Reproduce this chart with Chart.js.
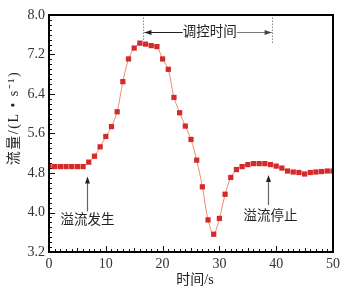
<!DOCTYPE html>
<html lang="zh">
<head>
    <meta charset="UTF-8">
    <title>流量曲线</title>
    <script src="https://cdn.jsdelivr.net/npm/chart.js"></script>
    <style>
        body {
            margin: 0;
            padding: 0;
            background: #ffffff;
        }
        canvas {
            display: block;
        }
    </style>
</head>
<body>
    <canvas id="flowChart" width="348" height="294"></canvas>

    <script>
        // time (s) and measured flow (L/s)
        const times = [0, 1, 2, 3, 4, 5, 6, 7, 8, 9, 10, 11, 12, 13, 14, 15, 16, 17, 18, 19, 20,
            21, 22, 23, 24, 25, 26, 27, 28, 29, 30, 31, 32, 33, 34, 35, 36, 37, 38, 39, 40,
            41, 42, 43, 44, 45, 46, 47, 48, 49, 50];
        const flow = [4.93, 4.93, 4.93, 4.93, 4.93, 4.93, 4.93, 5.02, 5.14, 5.33, 5.54, 5.74, 6.04, 6.65, 7.11, 7.33, 7.43, 7.41, 7.38, 7.36, 7.11,
            6.90, 6.33, 6.02, 5.75, 5.48, 5.06, 4.52, 3.85, 3.56, 3.88, 4.37, 4.71, 4.87, 4.93, 4.97, 4.99, 4.99, 4.99, 4.97, 4.94,
            4.90, 4.84, 4.82, 4.81, 4.78, 4.81, 4.82, 4.83, 4.84, 4.84];
        const xTicks = [0, 10, 20, 30, 40, 50];
        const yTicks = [3.2, 4.0, 4.8, 5.6, 6.4, 7.2, 8.0];

        const serif = "'Liberation Serif', 'DejaVu Serif', serif";
        // latin glyphs in serif, chinese falls back to Noto CJK
        const mixed = "'Liberation Serif', 'Noto Sans CJK SC', serif";

        // frame, inward ticks, axis titles and annotations
        const decorPlugin = {
            id: "decor",
            afterDraw(chart) {
                const ctx = chart.ctx;
                const xs = chart.scales.x, ys = chart.scales.y;
                const a = chart.chartArea;
                ctx.save();

                // ticks pointing inward
                ctx.strokeStyle = "#111";
                ctx.lineWidth = 1;
                for (let t = 0; t <= 50; t += 1) {
                    const px = Math.round(xs.getPixelForValue(t)) + 0.5;
                    const len = t % 10 === 0 ? 6 : (t % 5 === 0 ? 4 : 3);
                    ctx.beginPath();
                    ctx.moveTo(px, a.bottom);
                    ctx.lineTo(px, a.bottom - len);
                    ctx.stroke();
                }
                for (let i = 0; i <= 48; i++) {
                    const v = 3.2 + i * 0.1;
                    const py = Math.round(ys.getPixelForValue(v)) + 0.5;
                    const len = i % 8 === 0 ? 6 : 3;
                    ctx.beginPath();
                    ctx.moveTo(a.left, py);
                    ctx.lineTo(a.left + len, py);
                    ctx.stroke();
                }

                // frame
                ctx.lineWidth = 2;
                ctx.strokeStyle = "#000";
                ctx.strokeRect(a.left, a.top, a.right - a.left, a.bottom - a.top);

                // axis titles
                ctx.fillStyle = "#222";
                ctx.font = "14px " + mixed;
                ctx.textAlign = "center";
                ctx.textBaseline = "middle";
                ctx.fillText("时间/s", 195, 280);
                ctx.save();
                ctx.translate(14, 118);
                ctx.rotate(-Math.PI / 2);
                ctx.letterSpacing = "1.5px";
                ctx.fillText("流量/(L • s\u207B\u00B9)", 0, 0);
                ctx.restore();

                // dotted markers of the control window
                ctx.strokeStyle = "#888";
                ctx.lineWidth = 1;
                ctx.setLineDash([1.5, 1.5]);
                [16.5, 39.3].forEach(t => {
                    const px = Math.round(xs.getPixelForValue(t)) + 0.5;
                    ctx.beginPath();
                    ctx.moveTo(px, ys.getPixelForValue(7.95));
                    ctx.lineTo(px, ys.getPixelForValue(7.43));
                    ctx.stroke();
                });
                ctx.setLineDash([]);

                // double arrow with label
                const ay = Math.round(ys.getPixelForValue(7.66)) + 0.5;
                const x1 = xs.getPixelForValue(16.8), x2 = xs.getPixelForValue(39.2);
                const xm = xs.getPixelForValue(28.3);
                ctx.font = "13.5px " + mixed;
                const tw = ctx.measureText("调控时间").width;
                ctx.strokeStyle = "#222";
                ctx.beginPath();
                ctx.moveTo(x1, ay);
                ctx.lineTo(xm - tw / 2, ay);
                ctx.stroke();
                ctx.strokeStyle = "#777";
                ctx.beginPath();
                ctx.moveTo(xm + tw / 2, ay);
                ctx.lineTo(x2, ay);
                ctx.stroke();
                arrowHead(ctx, x1, ay, -1, 0, "#222");
                arrowHead(ctx, x2, ay, 1, 0, "#444");
                ctx.fillStyle = "#222";
                ctx.fillText("调控时间", xm, ay);

                // vertical arrows with labels
                const notes = [
                    { t: 6.7, head: 4.73, tail: 4.02, label: "溢流发生", lt: 6.8, lv: 3.83 },
                    { t: 38.6, head: 4.76, tail: 4.15, label: "溢流停止", lt: 39.0, lv: 3.91 }
                ];
                notes.forEach(n => {
                    const px = Math.round(xs.getPixelForValue(n.t)) + 0.5;
                    const hy = ys.getPixelForValue(n.head);
                    ctx.strokeStyle = "#666";
                    ctx.lineWidth = 1.2;
                    ctx.beginPath();
                    ctx.moveTo(px, ys.getPixelForValue(n.tail));
                    ctx.lineTo(px, hy + 4);
                    ctx.stroke();
                    arrowHead(ctx, px, hy, 0, -1, "#222");
                    ctx.fillStyle = "#222";
                    ctx.font = "13.5px " + mixed;
                    ctx.fillText(n.label, xs.getPixelForValue(n.lt), ys.getPixelForValue(n.lv));
                });

                ctx.restore();
            }
        };

        function arrowHead(ctx, x, y, dx, dy, color) {
            const L = 7, W = 2.5;
            const bx = x - dx * L, by = y - dy * L;
            ctx.fillStyle = color;
            ctx.beginPath();
            ctx.moveTo(x, y);
            ctx.lineTo(bx - dy * W, by + dx * W);
            ctx.lineTo(bx + dy * W, by - dx * W);
            ctx.closePath();
            ctx.fill();
        }

        const points = times.map((t, i) => ({ x: t, y: flow[i] }));

        new Chart(document.getElementById("flowChart"), {
            type: "line",
            data: {
                datasets: [{
                    label: "流量",
                    data: points,
                    borderColor: "#f08a70",
                    borderWidth: 1,
                    backgroundColor: "#d42a2a",
                    pointBackgroundColor: "#d42a2a",
                    pointBorderColor: "#d42a2a",
                    pointBorderWidth: 0,
                    pointStyle: "rect",
                    pointRadius: 3.7,
                    tension: 0.3,
                    fill: false
                }]
            },
            options: {
                responsive: false,
                animation: false,
                devicePixelRatio: 1,
                layout: { padding: { top: 15, right: 15, left: 0, bottom: 0 } },
                plugins: {
                    legend: { display: false },
                    tooltip: { enabled: false }
                },
                scales: {
                    x: {
                        type: "linear",
                        min: 0,
                        max: 50,
                        afterBuildTicks: s => { s.ticks = xTicks.map(v => ({ value: v })); },
                        afterFit: s => { s.height = 42; },
                        grid: { display: false, drawTicks: false },
                        border: { display: false },
                        ticks: {
                            padding: 4,
                            color: "#333",
                            autoSkip: false,
                            font: { family: serif, size: 14 },
                            maxRotation: 0
                        }
                    },
                    y: {
                        min: 3.2,
                        max: 8.0,
                        afterBuildTicks: s => { s.ticks = yTicks.map(v => ({ value: v })); },
                        afterFit: s => { s.width = 49; },
                        grid: { display: false, drawTicks: false },
                        border: { display: false },
                        ticks: {
                            padding: 4,
                            color: "#333",
                            autoSkip: false,
                            font: { family: serif, size: 14 },
                            callback: v => v.toFixed(1)
                        }
                    }
                }
            },
            plugins: [decorPlugin]
        });
    </script>
</body>
</html>
